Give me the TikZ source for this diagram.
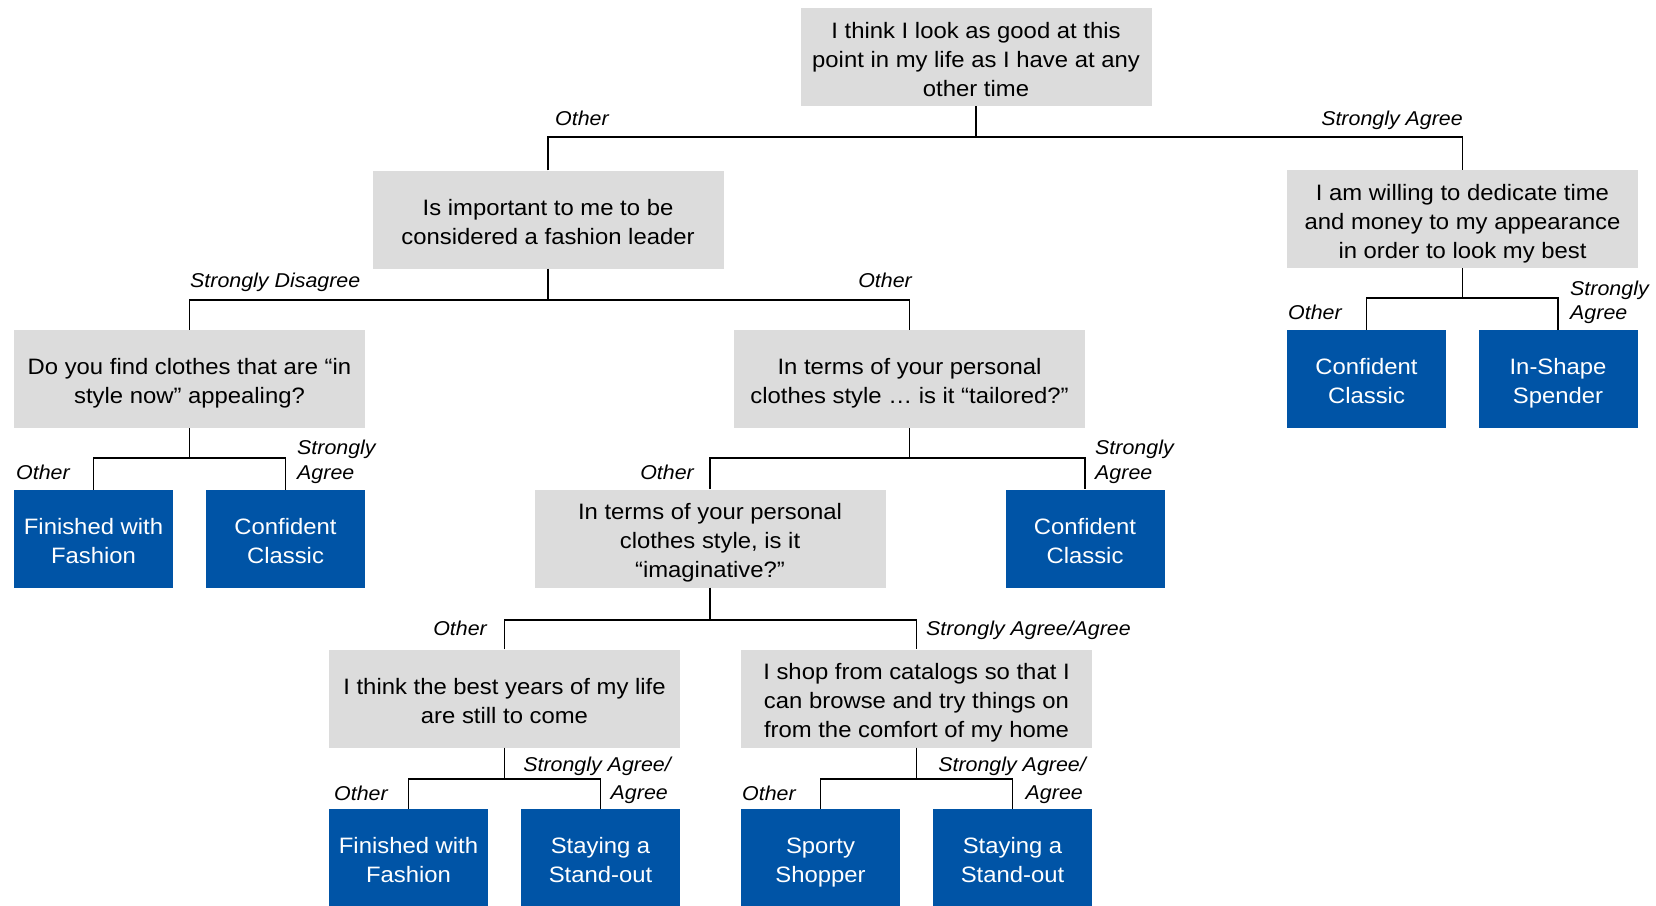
\documentclass[tikz,border=0pt]{standalone}
\usepackage{fontspec}
\setmainfont{Liberation Sans}[FakeStretch=1.07]
\definecolor{qgray}{RGB}{220,220,220}
\definecolor{leafblue}{RGB}{0,84,166}
\newcommand\qfont{\fontsize{22.3}{29}\selectfont}
\newcommand\lfont{\fontsize{20}{24.5}\selectfont\itshape}
% centred lines with a taller first row, so the block sits a little low
\newcommand\qbox[1]{\begin{tabular}{@{}c@{}}\rule{0pt}{29.5pt}#1\end{tabular}}
\tikzset{
  question/.style={fill=qgray, minimum width=351pt, minimum height=98pt,
    inner sep=0pt, font=\qfont},
  segment/.style={fill=leafblue, text=white, minimum width=159pt,
    minimum height=98pt, inner sep=0pt, font=\qfont},
  answer/.style={inner sep=0pt, font=\lfont},
  link/.style={line width=1.6pt}
}
\begin{document}
\begin{tikzpicture}[x=1pt, y=-1pt]
\useasboundingbox (0,0) rectangle (1656,905);

% question boxes
\node[question] (root) at (976,57)
  {\qbox{I think I look as good at this\\point in my life as I have at any\\other time}};
\node[question] (fashion) at (548,219.5)
  {\qbox{Is important to me to be\\considered a fashion leader}};
\node[question] (willing) at (1462.5,219)
  {\qbox{I am willing to dedicate time\\and money to my appearance\\in order to look my best}};
\node[question] (instyle) at (189.5,379)
  {\qbox{Do you find clothes that are “in\\style now” appealing?}};
\node[question] (tailored) at (909.5,379)
  {\qbox{In terms of your personal\\clothes style \dots\ is it “tailored?”}};
\node[question] (imagin) at (710,538.5)
  {\qbox{In terms of your personal\\clothes style, is it\\“imaginative?”}};
\node[question] (bestyears) at (504.5,698.5)
  {\qbox{I think the best years of my life\\are still to come}};
\node[question] (catalog) at (916.5,698.5)
  {\qbox{I shop from catalogs so that I\\can browse and try things on\\from the comfort of my home}};

% segment boxes
\node[segment] (ffA) at (93.5,539) {\qbox{Finished with\\Fashion}};
\node[segment] (ccA) at (285.5,539) {\qbox{Confident\\Classic}};
\node[segment] (ccB) at (1085,538.5) {\qbox{Confident\\Classic}};
\node[segment] (ccC) at (1366.5,379) {\qbox{Confident\\Classic}};
\node[segment] (iss) at (1558,379) {\qbox{In-Shape\\Spender}};
\node[segment] (ffB) at (408.5,858) {\qbox{Finished with\\Fashion}};
\node[segment] (soA) at (600.5,858) {\qbox{Staying a\\Stand-out}};
\node[segment] (sps) at (820.5,858) {\qbox{Sporty\\Shopper}};
\node[segment] (soB) at (1012.5,858) {\qbox{Staying a\\Stand-out}};

% branch connectors
\draw[link] (root.south) -- ++(0,31) coordinate (j0);
\draw[link] (fashion.north) |- (j0) -| (willing.north);
\draw[link] (fashion.south) -- ++(0,31) coordinate (j1);
\draw[link] (instyle.north) |- (j1) -| (tailored.north);
\draw[link] (instyle.south) -- ++(0,30) coordinate (j2);
\draw[link] (ffA.north) |- (j2) -| (ccA.north);
\draw[link] (willing.south) -- ++(0,30) coordinate (j3);
\draw[link] (ccC.north) |- (j3) -| (iss.north);
\draw[link] (tailored.south) -- ++(0,30) coordinate (j4);
\draw[link] (imagin.north) |- (j4) -| (ccB.north);
\draw[link] (imagin.south) -- ++(0,32) coordinate (j5);
\draw[link] (bestyears.north) |- (j5) -| (catalog.north);
\draw[link] (bestyears.south) -- ++(0,31) coordinate (j6);
\draw[link] (ffB.north) |- (j6) -| (soA.north);
\draw[link] (catalog.south) -- ++(0,31) coordinate (j7);
\draw[link] (sps.north) |- (j7) -| (soB.north);

% answer labels
\node[answer, anchor=base west] (a0l) at (555,125.5) {Other};
\node[answer, anchor=base east] (a0r) at (1463,125.5) {Strongly Agree};
\node[answer, anchor=base west] (a1l) at (190,287.5) {Strongly Disagree};
\node[answer, anchor=base east] (a1r) at (912,287.5) {Other};
\node[answer, anchor=base west] (a2l) at (16,479) {Other};
\node[answer, anchor=base west] (a2r1) at (297,454) {Strongly};
\node[answer, anchor=base west] (a2r2) at (297,479) {Agree};
\node[answer, anchor=base west] (a3l) at (1288,319) {Other};
\node[answer, anchor=base west] (a3r1) at (1570,295) {Strongly};
\node[answer, anchor=base west] (a3r2) at (1570,319) {Agree};
\node[answer, anchor=base east] (a4l) at (694,479) {Other};
\node[answer, anchor=base west] (a4r1) at (1095,454) {Strongly};
\node[answer, anchor=base west] (a4r2) at (1095,479) {Agree};
\node[answer, anchor=base east] (a5l) at (487,635) {Other};
\node[answer, anchor=base west] (a5r) at (926,635) {Strongly Agree/Agree};
\node[answer, anchor=base west] (a6l) at (334,800) {Other};
\node[answer, anchor=base east] (a6r1) at (671,771) {Strongly Agree/};
\node[answer, anchor=base east] (a6r2) at (668,799) {Agree};
\node[answer, anchor=base west] (a7l) at (742,800) {Other};
\node[answer, anchor=base east] (a7r1) at (1086,771) {Strongly Agree/};
\node[answer, anchor=base east] (a7r2) at (1083,799) {Agree};
\end{tikzpicture}
\end{document}
